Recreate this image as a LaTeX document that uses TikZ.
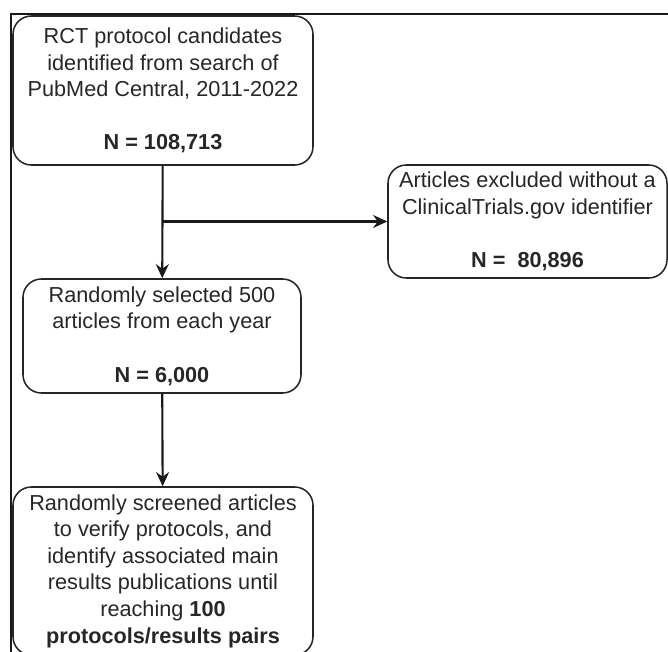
\documentclass[tikz,border=0pt]{standalone}
\usepackage{fontspec}
\setmainfont{Liberation Sans}
\usepackage{xcolor}
\usetikzlibrary{arrows.meta}

\begin{document}
\begin{tikzpicture}[x=0.03cm,y=-0.03cm,
	box/.style={draw=black!85,line width=1.3pt,rounded corners=0.55cm,align=center,inner sep=0pt,
		font=\fontsize{18.5}{22.7}\selectfont,text=black!85},
	arr/.style={draw=black!90,line width=1.8pt,-{Stealth[length=12pt,width=11pt]}}]
	\useasboundingbox (0,0) rectangle (668,652);
	\clip (0,0) rectangle (668,652);
	\draw[line width=2pt,black!90] (668,14) -- (11,14) -- (11,652);
	\node[box,minimum width=9cm,minimum height=4.47cm] at (163,90.5) (1) {RCT protocol candidates\\identified from search of\\PubMed Central, 2011-2022\\[0.8cm]\textbf{N = 108,713}};
	\node[box,minimum width=8.34cm,minimum height=3.42cm] at (162,336) (2) {Randomly selected 500\\articles from each year\\[0.8cm]\textbf{N = 6,000}};
	\node[box,minimum width=8.37cm,minimum height=3.39cm] at (527.5,221.5) (3) {Articles excluded without a\\ClinicalTrials.gov identifier\\[0.8cm]\textbf{N = \ 80,896}};
	\node[box,minimum width=9cm,minimum height=5.04cm] at (163,571) (4) {Randomly screened articles\\to verify protocols, and\\identify associated main\\results publications until\\reaching \textbf{100}\\\textbf{protocols/results pairs}};
	\coordinate (b) at (1.south |- 3.west);
	\draw[arr] (1) to (2);
	\draw[arr] (b) to (3);
	\draw[arr] (2) to (4);
\end{tikzpicture}
\end{document}
